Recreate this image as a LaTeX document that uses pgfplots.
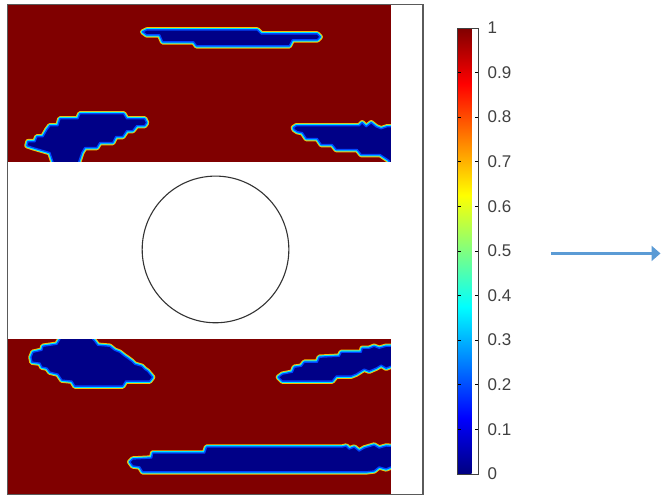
\documentclass[border=0pt]{standalone}
\usepackage{pgfplots}
\pgfplotsset{compat=1.18}
\usepackage{fontspec}
\setmainfont{Liberation Sans}
\usetikzlibrary{arrows.meta,calc}
\definecolor{dred}{RGB}{128,0,0}
\definecolor{navy}{RGB}{0,0,135}
\definecolor{edgeA}{RGB}{255,190,0}
\definecolor{edgeB}{RGB}{0,235,255}
\definecolor{edgeC}{RGB}{0,70,255}
\definecolor{arrowblue}{RGB}{91,155,213}
\definecolor{framegray}{RGB}{90,90,90}
\definecolor{labelgray}{RGB}{64,64,64}
\newcommand{\blob}[1]{%
  \addplot[draw=edgeA, line width=5.4pt, line join=round] coordinates {#1} -- cycle;
  \addplot[draw=edgeB, line width=3.6pt, line join=round] coordinates {#1} -- cycle;
  \addplot[draw=edgeC, fill=navy, line width=1.4pt, line join=round] coordinates {#1} -- cycle;
}
\begin{document}
\begin{tikzpicture}
\begin{axis}[
  width=662pt, height=496pt, scale only axis,
  xmin=0, xmax=662, ymin=0, ymax=496, y dir=reverse,
  hide axis, clip=false,
  colormap/jet, point meta min=0, point meta max=1,
  colorbar,
  colorbar style={
    at={($(parent axis.north west)+(450pt,-28pt)$)}, anchor=north west,
    width=21pt, height=447pt, scale only axis,
    ytick={0,0.1,0.2,0.3,0.4,0.5,0.6,0.7,0.8,0.9,1},
    ytick pos=both, yticklabel pos=right, ytick align=inside,
    major tick length=3.5pt,
    tick style={black, line width=0.8pt},
    axis line style={black!75, line width=0.8pt},
    /pgf/number format/assume math mode=true,
    yticklabel style={font=\fontsize{17}{20}\selectfont, text=labelgray, anchor=west, inner sep=0pt, xshift=9pt},
  },
]
\addplot[draw=none, fill=white] coordinates {(0,0)(662,0)(662,496)(0,496)} -- cycle;
\addplot[draw=none, fill=dred] coordinates {(8,5)(392,5)(392,495)(8,495)} -- cycle;
% top centre
\blob{(143,32) (147,30) (258,30) (262,34) (318,34) (321,37) (318,40) (293,40) (290,46) (197,46) (194,42) (163,42) (160,35) (147,35)}
% top left
\blob{(80,114) (124,114) (127,119) (145,119) (147,123) (145,126) (137,126) (133,131) (127,131) (123,137) (116,137) (113,143) (100,143) (97,148) (85,148) (82,153) (79,162) (79,172) (53,172) (53,162) (50,153) (33,148) (27,146) (28,142) (35,142) (37,137) (43,137) (47,130) (50,126) (58,126) (60,119) (78,119)}
% top right
\blob{(294,128) (297,126) (360,126) (363,123) (367,127) (372,123) (377,127) (382,129) (388,127) (402,127) (402,172) (390,172) (390,161) (381,155) (362,155) (358,150) (337,150) (333,145) (322,145) (318,139) (307,139) (303,133) (298,132) (295,130)}
% bottom left
\blob{(60,328) (60,340) (57,345) (43,347) (42,351) (33,353) (31,358) (32,363) (40,364) (42,368) (47,369) (50,373) (58,375) (62,381) (72,382) (75,387) (123,387) (126,382) (150,382) (153,378) (148,372) (145,370) (142,367) (135,365) (132,362) (128,359) (125,357) (120,353) (115,351) (110,347) (98,346) (95,342) (93,340) (93,328)}
% bottom right upper
\blob{(279,378) (283,375) (293,373) (295,368) (302,367) (305,363) (318,363) (320,358) (340,357) (342,353) (362,353) (363,349) (370,349) (375,347) (380,349) (387,347) (402,347) (402,368) (392,367) (387,369) (382,366) (377,369) (370,372) (365,370) (357,375) (352,377) (337,377) (333,382) (283,382)}
% bottom long
\blob{(130,463) (133,460) (152,459) (153,454) (205,454) (207,448) (343,448) (347,447) (350,450) (355,448) (360,452) (365,449) (375,446) (380,449) (387,447) (402,448) (402,468) (392,468) (387,470) (380,468) (375,472) (367,473) (143,473) (140,468) (133,467)}
\addplot[draw=none, fill=white] coordinates {(5,162)(423.4,162)(423.4,340)(5,340)} -- cycle;
\addplot[draw=none, fill=white] coordinates {(392,2)(423.4,2)(423.4,496)(392,496)} -- cycle;
\addplot[draw=framegray, line width=1.2pt] coordinates {(7.5,4.5)(424,4.5)(424,495.5)(7.5,495.5)} -- cycle;
\draw[black!80, line width=1.1pt] (axis cs:216,250) circle[radius=73.5];
\addplot[arrowblue, line width=3pt, -{Triangle[length=9pt,width=15pt]}] coordinates {(552,254) (662,254)};
\end{axis}
\end{tikzpicture}
\end{document}
